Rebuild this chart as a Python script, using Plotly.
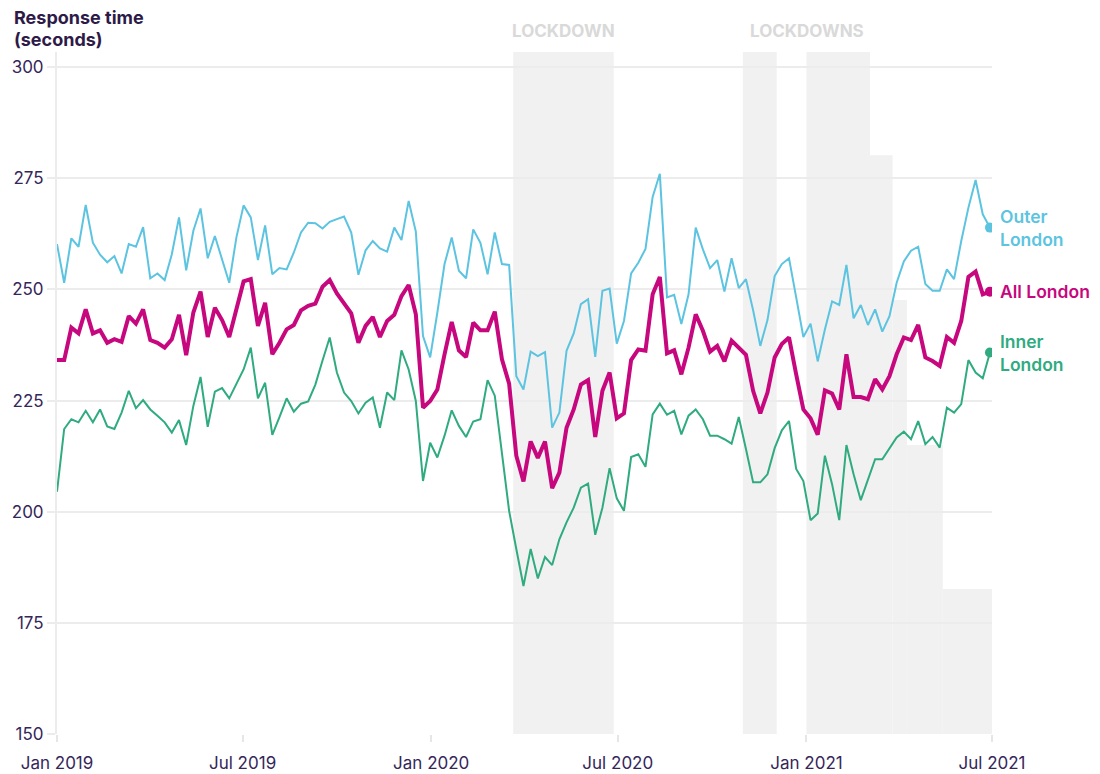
import pandas as pd
import plotly.graph_objects as go

# Weekly data, Jan 2019 - Jun 2021
weeks = pd.date_range("2019-01-01", periods=131, freq="7D")

outer_london = [
    260.2, 251.5, 261.5, 259.6, 269.0, 260.5, 257.8, 256.1, 257.5, 253.6,
    260.2, 259.6, 264.0, 252.5, 253.6, 252.1, 257.9, 266.2, 254.3, 263.2,
    268.2, 257.0, 262.0, 256.8, 251.5, 261.7, 268.9, 266.2, 256.6, 264.4,
    253.4, 254.8, 254.5, 258.3, 262.8, 265.0, 264.9, 263.7, 265.2, 265.8,
    266.4, 262.8, 253.3, 258.8, 260.9, 259.2, 258.5, 263.9, 261.1, 269.9,
    263.0, 239.5, 234.7, 244.8, 255.7, 261.7, 254.2, 252.5, 263.5, 260.5,
    253.4, 262.8, 255.7, 255.5, 230.5, 227.5, 236.0, 235.0, 235.9, 218.9,
    222.3, 236.2, 240.1, 246.7, 247.8, 234.8, 249.7, 250.2, 237.8, 242.9,
    253.6, 256.0, 259.1, 270.8, 276.0, 248.2, 248.8, 242.2, 248.9, 263.9,
    259.0, 254.8, 256.6, 249.5, 257.0, 250.3, 252.3, 245.3, 237.3, 243.1,
    253.0, 255.7, 257.0, 248.2, 239.3, 242.3, 233.8, 241.0, 247.3, 246.5,
    255.5, 243.5, 246.5, 242.0, 245.5, 240.5, 244.0, 251.5, 256.3, 258.7,
    259.6, 251.2, 249.7, 249.7, 254.5, 252.3, 260.9, 268.4, 274.6, 266.9,
    263.9,
]

all_london = [
    234.1, 234.1, 241.4, 240.1, 245.5, 240.1, 240.8, 238.0, 238.8, 238.2,
    244.0, 242.3, 245.5, 238.6, 238.0, 236.9, 238.8, 244.3, 235.2, 244.8,
    249.5, 239.3, 245.9, 243.1, 239.3, 245.9, 251.8, 252.3, 241.8, 247.0,
    235.4, 238.0, 241.0, 242.0, 245.3, 246.3, 246.8, 250.6, 252.1, 249.1,
    247.0, 244.6, 238.0, 241.8, 243.8, 239.3, 242.9, 244.3, 248.5, 251.0,
    244.4, 223.4, 224.9, 227.5, 235.4, 242.7, 236.3, 234.8, 242.5, 240.8,
    240.8, 245.0, 234.3, 228.8, 212.6, 206.8, 215.8, 212.1, 215.8, 205.3,
    208.8, 218.9, 223.0, 228.6, 229.6, 216.8, 227.2, 231.3, 221.0, 222.1,
    234.1, 236.5, 236.2, 248.9, 252.8, 235.6, 236.3, 230.9, 236.9, 244.4,
    240.7, 236.0, 237.3, 233.8, 238.5, 237.0, 235.3, 227.2, 222.1, 226.8,
    234.7, 237.7, 239.2, 230.9, 223.0, 221.0, 217.3, 227.3, 226.6, 223.0,
    235.4, 225.8, 225.8, 225.3, 229.8, 227.5, 230.5, 235.4, 239.2, 238.6,
    242.0, 234.7, 233.9, 232.8, 239.3, 238.0, 242.9, 252.8, 254.0, 248.9,
    249.5,
]

inner_london = [
    204.5, 218.6, 220.8, 220.1, 222.7, 220.1, 223.0, 219.2, 218.6, 222.3,
    227.2, 223.3, 225.1, 223.0, 221.6, 220.1, 217.8, 220.6, 215.0, 223.8,
    230.3, 219.1, 227.0, 227.8, 225.5, 228.8, 232.0, 236.9, 225.5, 229.0,
    217.3, 221.3, 225.5, 222.5, 224.3, 224.8, 228.6, 234.0, 239.2, 231.3,
    226.8, 224.9, 222.1, 224.5, 225.7, 218.9, 226.8, 225.1, 236.3, 232.0,
    224.9, 206.9, 215.5, 212.2, 217.1, 222.8, 219.3, 216.8, 220.3, 220.8,
    229.6, 226.1, 212.9, 200.2, 191.6, 183.3, 191.6, 185.0, 189.8, 188.0,
    193.8, 197.6, 200.9, 205.4, 206.3, 194.8, 200.9, 209.8, 203.0, 200.2,
    212.3, 212.9, 210.1, 221.9, 224.3, 221.8, 222.7, 217.4, 221.6, 223.0,
    220.8, 217.1, 217.1, 216.3, 215.3, 221.3, 214.1, 206.6, 206.6, 208.4,
    214.3, 218.3, 220.4, 209.6, 206.9, 198.1, 199.6, 212.6, 206.2, 198.1,
    215.0, 208.4, 202.6, 207.3, 211.8, 211.8, 214.3, 216.7, 218.0, 216.3,
    220.4, 215.2, 216.8, 214.4, 223.4, 222.3, 224.2, 234.1, 231.3, 230.0,
    235.8,
]

# Lockdown shading: start, end, top value
lockdown_starts = ["2020-03-21", "2020-10-31", "2021-01-01", "2021-03-04", "2021-03-26", "2021-04-09", "2021-05-14"]
lockdown_ends = ["2020-06-27", "2020-12-03", "2021-03-04", "2021-03-26", "2021-04-09", "2021-05-14", "2021-07-01"]
lockdown_tops = [303.4, 303.4, 303.4, 280.2, 247.6, 215.0, 182.6]

tick_dates = ["2019-01-01", "2019-07-01", "2020-01-01", "2020-07-01", "2021-01-01", "2021-07-01"]
tick_labels = ["Jan 2019", "Jul 2019", "Jan 2020", "Jul 2020", "Jan 2021", "Jul 2021"]
y_ticks = [150, 175, 200, 225, 250, 275, 300]

C_OUTER = "#5cc4e0"
C_ALL = "#c6077e"
C_INNER = "#2fab7f"
TXT = "#35265a"
FONT = "Inter, Lato, sans-serif"

fig = go.Figure()

series = [
    ("Outer London", outer_london, C_OUTER, 2, "Outer<br>London"),
    ("Inner London", inner_london, C_INNER, 2, "Inner<br>London"),
    ("All London", all_london, C_ALL, 4, "All London"),
]
for name, vals, col, w, label in series:
    fig.add_trace(go.Scatter(x=weeks, y=vals, mode="lines", name=name,
                             line=dict(color=col, width=w), hoverinfo="x+y"))
    fig.add_trace(go.Scatter(x=[weeks[-1]], y=[vals[-1]], mode="markers",
                             marker=dict(color=col, size=10), showlegend=False,
                             hoverinfo="skip"))
    fig.add_annotation(x=weeks[-1], y=vals[-1], xref="x", yref="y", text=label,
                       showarrow=False, xanchor="left", yanchor="middle", xshift=8,
                       align="left", font=dict(family=FONT, size=17.5, color=col, weight=600))

for s, e, t in zip(lockdown_starts, lockdown_ends, lockdown_tops):
    fig.add_shape(type="rect", xref="x", yref="y", x0=s, x1=e, y0=150, y1=t,
                  fillcolor="#f1f1f1", line=dict(width=0), layer="below")

fig.add_annotation(x=0.5412, y=1.031, xref="paper", yref="paper", text="LOCKDOWN",
                   showarrow=False, xanchor="center", yanchor="middle",
                   font=dict(family=FONT, size=17, color="#d9d9d9", weight=700))
fig.add_annotation(x=0.8021, y=1.031, xref="paper", yref="paper", text="LOCKDOWNS",
                   showarrow=False, xanchor="center", yanchor="middle",
                   font=dict(family=FONT, size=17, color="#d9d9d9", weight=700))
for txt, yy in [("Response time", 1.0513), ("(seconds)", 1.019)]:
    fig.add_annotation(x=-0.0481, y=yy, xref="paper", yref="paper",
                       text=txt, showarrow=False,
                       xanchor="left", yanchor="middle", align="left",
                       font=dict(family=FONT, size=18, color="#2e1a47", weight=700))

fig.update_layout(
    width=1092, height=766,
    margin=dict(l=49, r=108, t=44, b=40, autoexpand=False),
    paper_bgcolor="white", plot_bgcolor="white",
    showlegend=False,
    font=dict(family=FONT, size=17, color=TXT),
    xaxis=dict(range=["2019-01-01", "2021-07-01"], tickvals=tick_dates, ticktext=tick_labels,
               showgrid=False, zeroline=False, showline=False, automargin=False,
               ticks="outside", ticklen=7, tickcolor="#e6e6e6", tickwidth=2,
               ticklabelstandoff=7,
               tickfont=dict(family=FONT, size=17, color=TXT)),
    yaxis=dict(range=[150, 303.4], tickvals=y_ticks, showgrid=True, gridcolor="#ececec",
               gridwidth=2, zeroline=False, showline=True, linecolor="#ececec", linewidth=2,
               automargin=False,
               ticks="outside", ticklen=8, tickcolor="#ececec", tickwidth=2,
               tickfont=dict(family=FONT, size=17, color=TXT)),
)

fig.write_html("out.html")
